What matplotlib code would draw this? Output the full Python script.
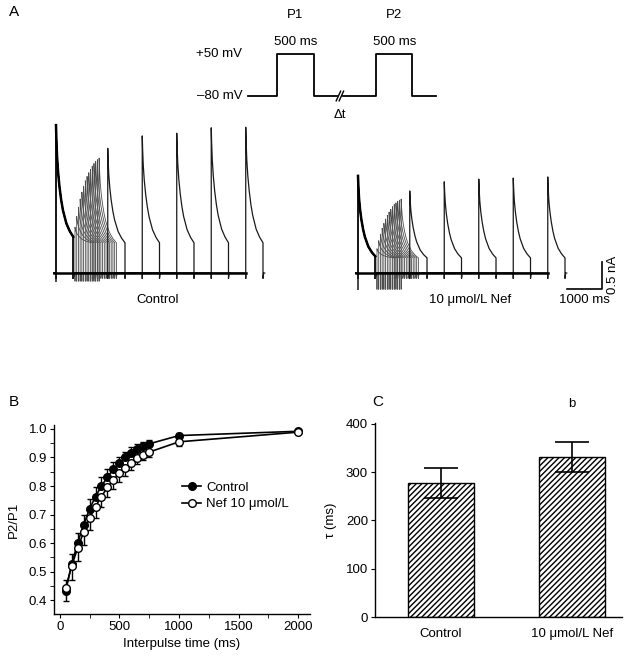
import matplotlib.pyplot as plt
from matplotlib.lines import Line2D

plt.rcParams['font.family'] = ['Liberation Sans', 'DejaVu Sans']
plt.rcParams['hatch.linewidth'] = 1.0
plt.rcParams['axes.linewidth'] = 1.0

W, H = 625, 656

# --- panel A, voltage protocol (ms / mV)
prot_t1 = [-390, 0, 0, 500, 500, 810]
prot_v1 = [-80, -80, 50, 50, -80, -80]
prot_t2 = [890, 1340, 1340, 1830, 1830, 2150]
prot_v2 = [-80, -80, 50, 50, -80, -80]

# --- panel A, current sweeps (ms / nA)
decay_t = [0, 10, 30, 60, 100, 150, 200, 300, 400, 500]
decay_frac = [1, 0.88, 0.72, 0.58, 0.45, 0.33, 0.24, 0.12, 0.05, 0]
short_dt = [50, 100, 150, 200, 250, 300, 350, 400, 450, 500, 550, 600, 650, 700, 750]
long_dt = [1000, 2000, 3000, 4000, 5000]

ctrl_p1 = 2.74
ctrl_p1_plat = 0.67
ctrl_p2_short = [0.85, 1.05, 1.22, 1.37, 1.5, 1.61, 1.71, 1.79, 1.86, 1.92, 1.98, 2.03, 2.07, 2.1, 2.13]
ctrl_p2_long = [2.31, 2.54, 2.59, 2.69, 2.70]
ctrl_p2_plat = 0.56

nef_p1 = 1.80
nef_p1_plat = 0.31
nef_p2_short = [0.45, 0.6, 0.72, 0.83, 0.92, 1.0, 1.07, 1.13, 1.18, 1.23, 1.27, 1.3, 1.33, 1.35, 1.37]
nef_p2_long = [1.52, 1.69, 1.74, 1.76, 1.78]
nef_p2_plat = 0.28

# --- panel B
interval_ms = [50, 100, 150, 200, 250, 300, 350, 400, 450, 500, 550, 600, 650, 700, 750, 1000, 2000]
ratio_ctrl = [0.432, 0.525, 0.60, 0.664, 0.719, 0.763, 0.80, 0.831, 0.859, 0.88, 0.90, 0.916, 0.93, 0.939, 0.948, 0.977, 0.992]
ratio_nef = [0.441, 0.52, 0.582, 0.638, 0.687, 0.728, 0.763, 0.796, 0.822, 0.845, 0.863, 0.88, 0.898, 0.91, 0.919, 0.955, 0.989]
ctrl_err_lo = [0.037, 0, 0, 0, 0, 0, 0, 0, 0, 0, 0, 0, 0, 0, 0, 0, 0]
ctrl_err_hi = [0, 0.037, 0.035, 0.035, 0.037, 0.033, 0.03, 0.028, 0.025, 0.022, 0.02, 0.02, 0.018, 0.017, 0.015, 0.008, 0.004]
nef_err_lo = [0, 0.05, 0.045, 0.045, 0.043, 0.04, 0.038, 0.035, 0.032, 0.03, 0.027, 0.025, 0.022, 0.02, 0.018, 0.013, 0.004]
nef_err_hi = [0.03, 0, 0, 0, 0, 0, 0, 0, 0, 0, 0, 0, 0, 0, 0, 0, 0]

# --- panel C
groups = ['Control', '10 μmol/L Nef']
tau_mean = [278, 332]
tau_sem = [31, 31]

fig = plt.figure(figsize=(W / 100, H / 100), dpi=100)


def px_axes(x0, y0, x1, y1):
    return fig.add_axes([x0 / W, 1 - y1 / H, (x1 - x0) / W, (y1 - y0) / H])


def sweep(dt, p1, plat1, p2, plat2, cap):
    t = [-60, 0, 0]
    i = [0, 0, -cap]
    for d, f in zip(decay_t, decay_frac):
        t.append(d)
        i.append(plat1 + (p1 - plat1) * f)
    t += [500, 500, 520, 500 + dt, 500 + dt]
    i += [plat1, -0.1, 0, 0, -cap]
    for d, f in zip(decay_t, decay_frac):
        t.append(500 + dt + d)
        i.append(plat2 + (p2 - plat2) * f)
    e = 1000 + dt
    t += [e, e, e + 20, e + 50]
    i += [plat2, -0.1, 0, 0]
    return t, i


# ---------------- protocol
axp = px_axes(240, 40, 450, 110)
axp.set_xlim(-500, 2338)
axp.set_ylim(-123.3, 93.3)
axp.axis('off')
axp.plot(prot_t1, prot_v1, color='k', lw=1.3)
axp.plot(prot_t2, prot_v2, color='k', lw=1.3)
axp.plot([800, 860], [-95, -65], color='k', lw=1.0)
axp.plot([840, 900], [-95, -65], color='k', lw=1.0)
axp.text(250, 170, 'P1', ha='center', va='center', fontsize=9.5, clip_on=False)
axp.text(250, 87, '500 ms', ha='center', va='center', fontsize=9.5, clip_on=False)
axp.text(1585, 170, 'P2', ha='center', va='center', fontsize=9.5, clip_on=False)
axp.text(1585, 87, '500 ms', ha='center', va='center', fontsize=9.5, clip_on=False)
axp.text(-470, 50, '+50 mV', ha='right', va='center', fontsize=9.5, clip_on=False)
axp.text(-470, -80, '–80 mV', ha='right', va='center', fontsize=9.5, clip_on=False)
axp.text(850, -139, 'Δt', ha='center', va='center', fontsize=9.5, clip_on=False)

# ---------------- traces
for x0, x1, t_left, t_right, p1, pl1, p2s, p2l, pl2, cap, label, lab_t in [
        (40, 290, -464, 6783, ctrl_p1, ctrl_p1_plat, ctrl_p2_short, ctrl_p2_long, ctrl_p2_plat, 0.15,
         'Control', 2957),
        (340, 625, -522, 7739, nef_p1, nef_p1_plat, nef_p2_short, nef_p2_long, nef_p2_plat, 0.3,
         '10 μmol/L Nef', 3246)]:
    ax = px_axes(x0, 110, x1, 295)
    ax.set_xlim(t_left, t_right)
    ax.set_ylim(-0.407, 3.02)
    ax.axis('off')
    for dt, p2 in zip(short_dt, p2s):
        t, i = sweep(dt, p1, pl1, p2, pl2, cap)
        ax.plot(t, i, color='0.3', lw=0.6)
    for dt, p2 in zip(long_dt, p2l):
        t, i = sweep(dt, p1, pl1, p2, pl2, 0.1)
        ax.plot(t, i, color='0.1', lw=0.9)
    # superimposed P1 responses
    ax.plot(decay_t, [pl1 + (p1 - pl1) * f for f in decay_frac], color='k', lw=1.8)
    ax.plot([-60, 500 + long_dt[-1]], [0, 0], color='k', lw=1.8)
    ax.text(lab_t, -0.5, label, ha='center', va='center', fontsize=9.5, clip_on=False)
    scale_ax = ax

# scale bar on Nef axes
scale_ax.plot([6072, 7072, 7072], [-0.296, -0.296, 0.204], color='k', lw=1.2)
scale_ax.text(6572, -0.5, '1000 ms', ha='center', va='center', fontsize=9.5, clip_on=False)
scale_ax.text(7391, -0.04, '0.5 nA', ha='center', va='center', rotation=90, fontsize=9.5, clip_on=False)

# ---------------- panel B
axb = px_axes(54, 425, 310, 614)
axb.errorbar(interval_ms, ratio_ctrl, yerr=[ctrl_err_lo, ctrl_err_hi], color='k', lw=1.2,
             marker='o', ms=5.5, mfc='k', mec='k', capsize=2, elinewidth=1.0, label='Control')
axb.errorbar(interval_ms, ratio_nef, yerr=[nef_err_lo, nef_err_hi], color='k', lw=1.2,
             marker='o', ms=5.5, mfc='white', mec='k', capsize=2, elinewidth=1.0, label='Nef 10 μmol/L')
axb.set_xlim(-48, 2098)
axb.set_ylim(0.351, 1.014)
axb.set_xticks([0, 500, 1000, 1500, 2000])
axb.set_xticks([250, 750, 1250, 1750], minor=True)
axb.set_yticks([0.4, 0.5, 0.6, 0.7, 0.8, 0.9, 1.0])
axb.set_yticks([0.45, 0.55, 0.65, 0.75, 0.85, 0.95], minor=True)
axb.set_yticklabels(['0.4', '0.5', '0.6', '0.7', '0.8', '0.9', '1.0'])
axb.tick_params(direction='out', length=3, labelsize=9.5, pad=2)
axb.tick_params(which='minor', direction='out', length=3)
for s in ['top', 'right']:
    axb.spines[s].set_visible(False)
axb.set_xlabel('Interpulse time (ms)', fontsize=9.5, labelpad=4)
axb.set_ylabel('P2/P1', fontsize=9.5, labelpad=6)
handles = [Line2D([], [], color='k', lw=1.2, marker='o', ms=5.5, mfc='k', mec='k'),
           Line2D([], [], color='k', lw=1.2, marker='o', ms=5.5, mfc='white', mec='k')]
axb.legend(handles, ['Control', 'Nef 10 μmol/L'], loc='upper left', bbox_to_anchor=(0.5, 0.7),
           frameon=False, fontsize=9.5, handlelength=1.45, handletextpad=0.4, labelspacing=0.3,
           borderpad=0, borderaxespad=0)

# ---------------- panel C
axc = px_axes(375, 423, 622, 617)
xpos = range(len(groups))
axc.bar(xpos, tau_mean, width=0.5, color='white', edgecolor='k', hatch='//////', lw=1.0, zorder=2)
axc.errorbar(xpos, tau_mean, yerr=tau_sem, fmt='none', ecolor='k', elinewidth=1.2, capsize=12.5,
             capthick=1.2, zorder=3)
axc.set_xlim(-0.504, 1.382)
axc.set_ylim(0, 402)
axc.set_yticks([0, 100, 200, 300, 400])
axc.set_xticks(list(xpos))
axc.set_xticklabels(groups)
axc.tick_params(axis='y', direction='out', length=3, labelsize=9.5, pad=2)
axc.tick_params(axis='x', length=0, labelsize=9.5, pad=8)
for s in ['top', 'right']:
    axc.spines[s].set_visible(False)
axc.set_ylabel('τ (ms)', fontsize=9.5, labelpad=6)
axc.text(1, 441, 'b', ha='center', va='center', fontsize=9.5, clip_on=False)

# panel letters
fig.text(14 / W, 1 - 12 / H, 'A', fontsize=11, ha='center', va='center')
fig.text(14 / W, 1 - 402 / H, 'B', fontsize=11, ha='center', va='center')
fig.text(378 / W, 1 - 402 / H, 'C', fontsize=11, ha='center', va='center')

fig.savefig('out.png', dpi=100)
